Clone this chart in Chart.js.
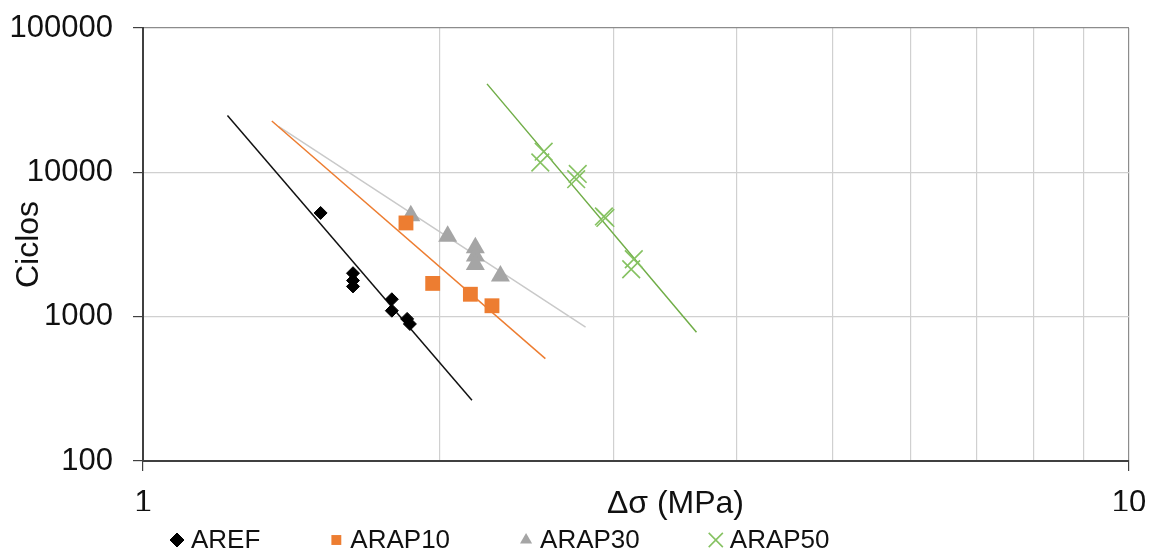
<!DOCTYPE html>
<html>
<head>
<meta charset="utf-8">
<script src="https://cdn.jsdelivr.net/npm/chart.js@4/dist/chart.umd.min.js"></script>
<style>
  html, body { margin: 0; padding: 0; background: #fff; }
</style>
</head>
<body>
<canvas id="canvas" width="1151" height="552"></canvas>
<script>
// measured points (stress range in MPa, cycles)
var arefX = [1.514, 1.633, 1.633, 1.633, 1.788, 1.788, 1.853, 1.865];
var arefY = [5230, 2000, 1780, 1620, 1320, 1100, 965, 890];
var arap10X = [1.848, 1.967, 2.148, 2.259];
var arap10Y = [4460, 1700, 1430, 1190];
var arap30X = [1.869, 2.037, 2.173, 2.173, 2.173, 2.304];
var arap30Y = [5010, 3610, 3000, 2630, 2300, 1915];
var arap50X = [2.549, 2.529, 2.760, 2.750, 2.934, 2.944, 3.146, 3.127];
var arap50Y = [13900, 11700, 9750, 8960, 4950, 4830, 2500, 2130];

// power-law trend lines (end points)
var arefFitX = [1.218, 2.156];
var arefFitY = [24800, 264];
var arap10FitX = [1.351, 2.559];
var arap10FitY = [22700, 512];
var arap30FitX = [1.372, 2.811];
var arap30FitY = [20800, 845];
var arap50FitX = [2.233, 3.642];
var arap50FitY = [41000, 781];

var seriesNames = ['AREF', 'ARAP10', 'ARAP30', 'ARAP50'];
var xTicks = [1, 2, 3, 4, 5, 6, 7, 8, 9, 10];
var yTicks = [100, 1000, 10000, 100000];
var xTitle = '\u0394\u03c3 (MPa)';
var yTitle = 'Ciclos';

var FONT = '"Liberation Sans", Arial, sans-serif';

function pts(xs, ys) {
	return xs.map(function(x, i) { return {x: x, y: ys[i]}; });
}

var markerSet = function(label, xs, ys, style, radius, color, bw) {
	return {
		label: label,
		data: pts(xs, ys),
		showLine: false,
		pointStyle: style,
		pointRadius: radius,
		pointHoverRadius: radius,
		backgroundColor: color,
		borderColor: color,
		pointBorderWidth: bw
	};
};

var lineSet = function(xs, ys, color) {
	return {
		label: '',
		data: pts(xs, ys),
		showLine: true,
		pointRadius: 0,
		borderColor: color,
		borderWidth: 1.5,
		fill: false
	};
};

var datasets = [
	markerSet(seriesNames[0], arefX, arefY, 'rectRot', 6.5, '#000000', 1),
	markerSet(seriesNames[1], arap10X, arap10Y, 'rect', 10.5, '#ED7D31', 0),
	markerSet(seriesNames[2], arap30X, arap30Y, 'triangle', 11, '#A5A5A5', 0),
	markerSet(seriesNames[3], arap50X, arap50Y, 'crossRot', 12.5, '#86C262', 1.6),
	lineSet(arefFitX, arefFitY, '#111111'),
	lineSet(arap10FitX, arap10FitY, '#ED7D31'),
	lineSet(arap30FitX, arap30FitY, '#C9C9C9'),
	lineSet(arap50FitX, arap50FitY, '#70AD47')
];

// x title on the tick label row + legend row under the axis
var extras = {
	id: 'extras',
	afterDraw: function(chart) {
		var ctx = chart.ctx;
		var area = chart.chartArea;
		ctx.save();
		ctx.fillStyle = '#111111';
		ctx.font = '32px ' + FONT;
		ctx.textAlign = 'center';
		ctx.textBaseline = 'middle';
		ctx.fillText(xTitle, area.left + (area.right - area.left) * 0.54, 504);

		ctx.font = '26px ' + FONT;
		ctx.textAlign = 'left';
		var x = 177, y = 540;
		chart.data.datasets.slice(0, 4).forEach(function(ds) {
			ctx.fillStyle = ds.backgroundColor;
			ctx.strokeStyle = ds.borderColor;
			ctx.lineWidth = ds.pointBorderWidth;
			var r = ds.pointStyle == 'crossRot' ? 10 : 7;
			Chart.helpers.drawPoint(ctx, {pointStyle: ds.pointStyle, radius: r, rotation: 0, borderWidth: ds.pointBorderWidth}, x, y);
			ctx.fillStyle = '#111111';
			ctx.fillText(ds.label, x + 14, y + 1);
			x += 16 + ctx.measureText(ds.label).width + 74;
		});
		ctx.restore();
	}
};

window.onload = function() {
	var ctx = document.getElementById('canvas').getContext('2d');
	window.myChart = new Chart(ctx, {
		type: 'scatter',
		data: {datasets: datasets},
		plugins: [extras],
		options: {
			responsive: false,
			animation: false,
			layout: {padding: {top: 28, right: 22, bottom: 41, left: 0}},
			plugins: {
				legend: {display: false},
				tooltip: {enabled: false}
			},
			scales: {
				x: {
					type: 'logarithmic',
					min: 1,
					max: 10,
					afterBuildTicks: function(scale) {
						scale.ticks = xTicks.map(function(v) { return {value: v}; });
					},
					afterFit: function(scale) {
						scale.height = 50;
						scale.paddingLeft = 0;
						scale.paddingRight = 0;
					},
					border: {color: '#404040', width: 2},
					grid: {
						color: function(c) { return c.tick && c.tick.value === 10 ? '#8c8c8c' : '#d0d0d0'; },
						tickColor: function(c) { return c.tick && (c.tick.value === 1 || c.tick.value === 10) ? '#404040' : 'rgba(0,0,0,0)'; },
						tickLength: 10,
						lineWidth: 1.2
					},
					ticks: {
						autoSkip: false,
						maxRotation: 0,
						padding: 14,
						color: '#111111',
						font: {family: FONT, size: 31},
						callback: function(v) { return (v === 1 || v === 10) ? String(v) : ''; }
					}
				},
				y: {
					type: 'logarithmic',
					min: 100,
					max: 100000,
					afterBuildTicks: function(scale) {
						scale.ticks = yTicks.map(function(v) { return {value: v}; });
					},
					afterFit: function(scale) {
						scale.width = 143;
						scale.paddingTop = 0;
						scale.paddingBottom = 0;
					},
					border: {color: '#404040', width: 2},
					grid: {
						color: function(c) { return c.tick && c.tick.value === 100000 ? '#8c8c8c' : '#d0d0d0'; },
						tickColor: '#404040',
						tickLength: 10,
						lineWidth: 1.2
					},
					ticks: {
						padding: 20,
						color: '#111111',
						font: {family: FONT, size: 31},
						callback: function(v) { return String(v); }
					},
					title: {
						display: true,
						text: yTitle,
						color: '#111111',
						font: {family: FONT, size: 32},
						padding: {top: 10, bottom: 0}
					}
				}
			}
		}
	});
};
</script>
</body>
</html>
